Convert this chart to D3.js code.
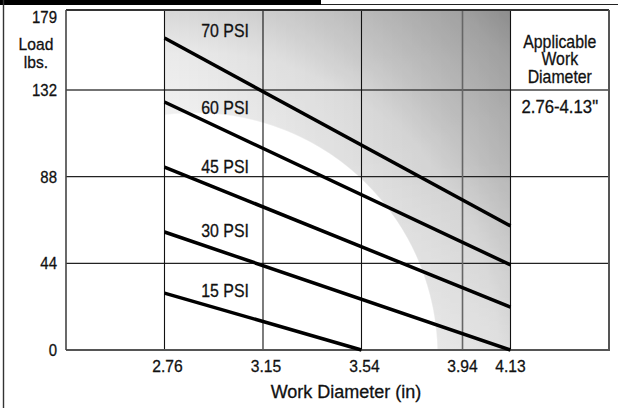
<!DOCTYPE html>
<html><head><meta charset="utf-8">
<script src="https://cdn.jsdelivr.net/npm/d3@7/dist/d3.min.js"></script>
<style>
html,body{margin:0;padding:0;background:#fff;}
svg{display:block;}
text{font-family:"Liberation Sans",Arial,Helvetica,sans-serif;fill:#111;stroke:#111;stroke-width:0.3;}
</style></head>
<body>
<svg id="c" width="618" height="408"></svg>
<script>
// ---- data ----
const seriesNames = ["15 PSI","30 PSI","45 PSI","60 PSI","70 PSI"];
const diaStart = [2.76, 2.76, 2.76, 2.76, 2.76];
const diaEnd   = [3.54, 4.13, 4.13, 4.13, 4.13];
const loadStart = [28.9, 59.9, 92.9, 125.9, 162.5];
const loadEnd   = [0, 0, 21.8, 43.2, 63];
const labelDia  = [3.0, 3.0, 3.0, 3.0, 3.0];
const labelLoad = [26.9, 57.4, 89.9, 119.8, 163.1];
const xTicks = [2.76, 3.15, 3.54, 3.94, 4.13];
const yTicks = [0, 44, 88, 132, 179];
const yGrid = [44, 88, 132];
const rangeLabel = ["Applicable","Work","Diameter"];
const rangeValue = '2.76-4.13"';

const svg = d3.select("#c");
const W = 618, H = 408;
const L = 66, R = 609, T = 10, B = 350;
const x = d3.scaleLinear().domain([2.37, 4.52]).range([L, R]);
const y = d3.scaleLinear().domain([0, 132, 179]).range([B, 90, T]);

function txt(px, py, t, size, anchor, sx){
  return svg.append("text")
    .attr("transform", `translate(${px},${py}) scale(${sx},1)`)
    .attr("text-anchor", anchor || "middle")
    .attr("font-size", size).text(t);
}

// frame
svg.append("rect").attr("x",0).attr("y",0).attr("width",321).attr("height",5).attr("fill","#000");
svg.append("line").attr("x1",321).attr("x2",W).attr("y1",4.5).attr("y2",4.5).attr("stroke","#222").attr("stroke-width",1.2);
svg.append("line").attr("x1",3.5).attr("x2",3.5).attr("y1",0).attr("y2",H).attr("stroke","#333").attr("stroke-width",1.4);

// shading: radial band + darkening toward the top right
const defs = svg.append("defs");
const sx0 = x(2.76), sy0 = y(0), sx1 = x(4.13), sy1 = y(179);
const cx = sx0 + 31, cy = sy0 + 5;
const rg = defs.append("radialGradient").attr("id","rad").attr("gradientUnits","userSpaceOnUse")
  .attr("cx",cx).attr("cy",cy).attr("fx",cx).attr("fy",cy).attr("r",480);
[[0,"#ffffff"],[0.503,"#ffffff"],[0.506,"#f1f1f1"],[0.63,"#ebebeb"],[0.72,"#d8d8d8"],[0.9,"#b8b8b8"],[1,"#9c9c9c"]]
  .forEach(s=>rg.append("stop").attr("offset",s[0]).attr("stop-color",s[1]));
const lg = defs.append("linearGradient").attr("id","dark").attr("gradientUnits","userSpaceOnUse")
  .attr("x1",sx0).attr("y1",0).attr("x2",sx1).attr("y2",0);
lg.append("stop").attr("offset",0).attr("stop-color","#000").attr("stop-opacity",0);
lg.append("stop").attr("offset",1).attr("stop-color","#000").attr("stop-opacity",0.14);
const vg = defs.append("linearGradient").attr("id","vfade").attr("gradientUnits","userSpaceOnUse")
  .attr("x1",0).attr("y1",sy1).attr("x2",0).attr("y2",sy0);
vg.append("stop").attr("offset",0).attr("stop-color","#fff");
vg.append("stop").attr("offset",0.45).attr("stop-color","#eee");
vg.append("stop").attr("offset",1).attr("stop-color","#555");
defs.append("clipPath").attr("id","shclip").append("rect")
  .attr("x",sx0).attr("y",sy1).attr("width",sx1-sx0).attr("height",sy0-sy1);
defs.append("mask").attr("id","outside").append("g").call(g=>{
  g.append("rect").attr("x",sx0).attr("y",sy1).attr("width",sx1-sx0).attr("height",sy0-sy1).attr("fill","url(#vfade)");
  g.append("circle").attr("cx",cx).attr("cy",cy).attr("r",242).attr("fill","#000");
});
const sh = svg.append("g").attr("clip-path","url(#shclip)");
sh.append("rect").attr("x",sx0).attr("y",sy1).attr("width",sx1-sx0).attr("height",sy0-sy1)
  .attr("fill","url(#rad)");
sh.append("rect").attr("x",sx0).attr("y",sy1).attr("width",sx1-sx0).attr("height",sy0-sy1)
  .attr("fill","url(#dark)").attr("mask","url(#outside)");

// gridlines
svg.selectAll(".hg").data(yGrid).join("line")
  .attr("x1",L).attr("x2",R).attr("y1",d=>y(d)).attr("y2",d=>y(d))
  .attr("stroke",d=>d===132?"#444":"#222").attr("stroke-width",d=>d===132?1.4:1.1);
svg.selectAll(".vg").data(xTicks).join("line")
  .attr("x1",d=>x(d)).attr("x2",d=>x(d)).attr("y1",y(179)).attr("y2",y(0))
  .attr("stroke",d=>d===3.94?"#666":"#111").attr("stroke-width",d=>d===3.94?1.6:1.1);

// plot border
svg.append("line").attr("x1",L).attr("x2",R).attr("y1",T).attr("y2",T).attr("stroke","#333").attr("stroke-width",1.8);
svg.append("line").attr("x1",L).attr("x2",R).attr("y1",B).attr("y2",B).attr("stroke","#555").attr("stroke-width",2);
svg.append("line").attr("x1",L).attr("x2",L).attr("y1",T).attr("y2",B).attr("stroke","#444").attr("stroke-width",1.6);
svg.append("line").attr("x1",R).attr("x2",R).attr("y1",T).attr("y2",B+1).attr("stroke","#555").attr("stroke-width",2);

// series lines + labels
seriesNames.forEach((n,i)=>{
  svg.append("line")
    .attr("x1",x(diaStart[i])).attr("y1",y(loadStart[i]))
    .attr("x2",x(diaEnd[i])).attr("y2",y(loadEnd[i]))
    .attr("stroke","#000").attr("stroke-width",3.5).attr("stroke-linecap","butt");
  txt(x(labelDia[i]), y(labelLoad[i]), n, 18.5, "middle", 0.86);
});

// y tick labels
yTicks.forEach(d=>{
  txt(57, d===179 ? y(d)+12.5 : y(d)+6, String(d), 17, "end", 0.88);
});
// y title
txt(36, 50, "Load", 17, "middle", 0.92);
txt(36, 68, "lbs.", 17, "middle", 0.92);

// x tick labels
xTicks.forEach(d=>{
  txt(x(d)+(d<3.9?3:0), 372, d.toFixed(2), 17, "middle", 0.92);
});
// x title
txt(346, 398, "Work Diameter (in)", 18, "middle", 1);

// applicable box
const bx = (x(4.13)+R)/2;
rangeLabel.forEach((t,i)=>{
  txt(bx, 48+i*17.3, t, 18, "middle", 0.88);
});
txt(bx, 113, rangeValue, 18, "middle", 0.93);
</script>
</body></html>
